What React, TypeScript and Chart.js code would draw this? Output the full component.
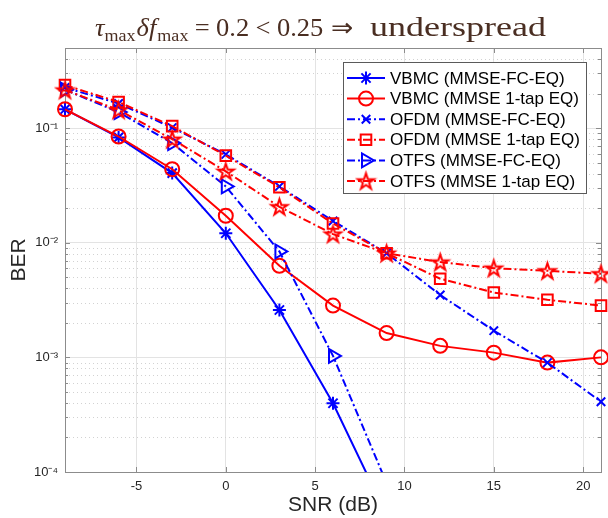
import React, { useEffect, useRef } from 'react';
import { Chart, registerables } from 'chart.js';
import { drawPoint } from 'chart.js/helpers';

Chart.register(...registerables);

const FONT = "'Liberation Sans', Arial, Helvetica, sans-serif";
const SERIF = "'Liberation Serif', 'Times New Roman', serif";
const BLUE = '#0000ff';
const RED = '#ff0000';
const AXIS = '#8c8c8c';
const TEXT = '#262626';
const TITLE_COLOR = '#4a2e22';

// ---- data ----
const snr = [-9, -6, -3, 0, 3, 6, 9, 12, 15, 18, 21];
const vbmcFc = [0.146, 0.083, 0.0405, 0.0121, 0.00259, 0.000398, 0.000042, null, null, null, null];
const vbmc1tap = [0.146, 0.0845, 0.0438, 0.0172, 0.0063, 0.00283, 0.00163, 0.00126, 0.0011, 0.0009, 0.001];
const ofdmFc = [0.226, 0.164, 0.101, 0.059, 0.031, 0.0155, 0.0081, 0.0035, 0.00171, 0.0009, 0.00041];
const ofdm1tap = [0.237, 0.169, 0.104, 0.0575, 0.0305, 0.0147, 0.0081, 0.00485, 0.00368, 0.00318, 0.00283];
const otfsFc = [0.216, 0.138, 0.074, 0.031, 0.0084, 0.00103, 0.00008, null, null, null, null];
const otfs1tap = [0.215, 0.144, 0.08, 0.042, 0.0206, 0.0119, 0.0081, 0.00678, 0.006, 0.00569, 0.00536];

const seriesLabels = [
  'VBMC (MMSE-FC-EQ)',
  'VBMC (MMSE 1-tap EQ)',
  'OFDM (MMSE-FC-EQ)',
  'OFDM (MMSE 1-tap EQ)',
  'OTFS (MMSE-FC-EQ)',
  'OTFS (MMSE 1-tap EQ)',
];
const xTicks = [-5, 0, 5, 10, 15, 20];
const yTicks = [1e-4, 1e-3, 1e-2, 1e-1];
const yTickLabels = ['10⁻⁴', '10⁻³', '10⁻²', '10⁻¹'];
const X_MIN = -9;
const X_MAX = 21;
const Y_MIN = 1e-4;
const Y_MAX = 0.5;
const xTitle = 'SNR (dB)';
const yTitle = 'BER';

const DASHDOT = [8, 3, 2, 3];

function makePentagram(r: number, color: string, lw: number): HTMLCanvasElement {
  const size = Math.ceil(2 * r + lw * 2 + 2);
  const c = document.createElement('canvas');
  c.width = size;
  c.height = size;
  const ctx = c.getContext('2d')!;
  ctx.strokeStyle = color;
  ctx.lineWidth = lw;
  ctx.lineJoin = 'miter';
  const cx = size / 2;
  const cy = size / 2 + 0.8;
  const ri = r * 0.382;
  ctx.beginPath();
  for (let i = 0; i < 10; i++) {
    const ang = -Math.PI / 2 + (i * Math.PI) / 5;
    const rr = i % 2 === 0 ? r : ri;
    const px = cx + rr * Math.cos(ang);
    const py = cy + rr * Math.sin(ang);
    if (i === 0) ctx.moveTo(px, py);
    else ctx.lineTo(px, py);
  }
  ctx.closePath();
  ctx.stroke();
  return c;
}

function toPoints(vals: (number | null)[]) {
  const out: { x: number; y: number }[] = [];
  vals.forEach((v, i) => {
    if (v !== null) out.push({ x: snr[i], y: v });
  });
  return out;
}

function drawTitle(ctx: CanvasRenderingContext2D, startX: number, base: number) {
  const MAIN = 25;
  const SUB = 17;
  const parts = [
    { t: 'τ', f: `italic ${MAIN}px ${SERIF}`, dy: 0, gap: 0 },
    { t: 'max', f: `${SUB}px ${SERIF}`, dy: 5, gap: 0 },
    { t: 'δ', f: `italic ${MAIN}px ${SERIF}`, dy: 0, gap: 1 },
    { t: 'f', f: `italic ${MAIN}px ${SERIF}`, dy: 0, gap: 0 },
    { t: 'max', f: `${SUB}px ${SERIF}`, dy: 5, gap: 1 },
    { t: '=', f: `${MAIN}px ${SERIF}`, dy: 0, gap: 6 },
    { t: '0.2', f: `${MAIN}px ${SERIF}`, dy: 0, gap: 6 },
    { t: '<', f: `${MAIN}px ${SERIF}`, dy: 0, gap: 6 },
    { t: '0.25', f: `${MAIN}px ${SERIF}`, dy: 0, gap: 6 },
    { t: '⇒', f: `${MAIN}px ${SERIF}`, dy: 0, gap: 7 },
  ];
  ctx.save();
  ctx.fillStyle = TITLE_COLOR;
  ctx.textBaseline = 'alphabetic';
  ctx.textAlign = 'left';
  let total = 0;
  for (const p of parts) {
    ctx.font = p.f;
    total += p.gap + ctx.measureText(p.t).width;
  }
  const mathWidth = 258;
  const sx = mathWidth / total;
  ctx.save();
  ctx.translate(startX, base);
  ctx.scale(sx, 1);
  let x = 0;
  for (const p of parts) {
    ctx.font = p.f;
    x += p.gap;
    ctx.fillText(p.t, x, p.dy);
    x += ctx.measureText(p.t).width;
  }
  ctx.restore();
  ctx.font = `27px ${SERIF}`;
  const word = 'underspread';
  const w = ctx.measureText(word).width;
  const target = 176;
  ctx.translate(startX + mathWidth + 17, base);
  ctx.scale(target / w, 1);
  ctx.fillText(word, 0, 0);
  ctx.restore();
}

const matlabPlugin = {
  id: 'matlabAxes',
  beforeDatasetsDraw(chart: any) {
    const { ctx, chartArea: a, scales } = chart;
    const ys = scales.y;
    const xs = scales.x;
    ctx.save();
    // minor grid
    ctx.strokeStyle = '#d2d2d2';
    ctx.lineWidth = 1;
    ctx.setLineDash([1, 3]);
    const minors: number[] = [];
    for (const d of yTicks) {
      for (let k = 2; k <= 9; k++) {
        const v = k * d;
        if (v < Y_MAX) minors.push(v);
      }
    }
    for (const v of minors) {
      const py = Math.round(ys.getPixelForValue(v)) + 0.5;
      ctx.beginPath();
      ctx.moveTo(a.left, py);
      ctx.lineTo(a.right, py);
      ctx.stroke();
    }
    ctx.setLineDash([]);
    // box
    ctx.strokeStyle = AXIS;
    ctx.lineWidth = 1;
    ctx.strokeRect(Math.round(a.left) + 0.5, Math.round(a.top) + 0.5, Math.round(a.right - a.left), Math.round(a.bottom - a.top));
    // tick marks (inside)
    ctx.beginPath();
    for (const v of xTicks) {
      const px = Math.round(xs.getPixelForValue(v)) + 0.5;
      ctx.moveTo(px, a.bottom);
      ctx.lineTo(px, a.bottom - 5);
      ctx.moveTo(px, a.top);
      ctx.lineTo(px, a.top + 5);
    }
    for (const v of yTicks) {
      const py = Math.round(ys.getPixelForValue(v)) + 0.5;
      ctx.moveTo(a.left, py);
      ctx.lineTo(a.left + 5, py);
      ctx.moveTo(a.right, py);
      ctx.lineTo(a.right - 5, py);
    }
    for (const v of minors) {
      const py = Math.round(ys.getPixelForValue(v)) + 0.5;
      ctx.moveTo(a.left, py);
      ctx.lineTo(a.left + 3, py);
      ctx.moveTo(a.right, py);
      ctx.lineTo(a.right - 3, py);
    }
    ctx.stroke();
    ctx.restore();
  },
  afterDraw(chart: any) {
    const { ctx, chartArea: a } = chart;
    // legend
    const lw = 243;
    const lh = 131;
    const lx = a.right - 15 - lw;
    const ly = a.top + 14;
    ctx.save();
    ctx.fillStyle = '#ffffff';
    ctx.fillRect(lx, ly, lw, lh);
    ctx.strokeStyle = '#5a5a5a';
    ctx.lineWidth = 1;
    ctx.strokeRect(Math.round(lx) + 0.5, Math.round(ly) + 0.5, lw, lh);
    ctx.font = `17px ${FONT}`;
    ctx.textBaseline = 'middle';
    ctx.textAlign = 'left';
    chart.data.datasets.forEach((ds: any, i: number) => {
      const ry = ly + 16 + i * 20.6;
      const x0 = lx + 4;
      const x1 = lx + 42;
      ctx.save();
      ctx.strokeStyle = ds.borderColor;
      ctx.lineWidth = ds.borderWidth;
      ctx.setLineDash(ds.borderDash || []);
      ctx.beginPath();
      ctx.moveTo(x0, ry);
      ctx.lineTo(x1, ry);
      ctx.stroke();
      ctx.setLineDash([]);
      ctx.strokeStyle = ds.pointBorderColor;
      ctx.fillStyle = 'rgba(0,0,0,0)';
      ctx.lineWidth = ds.pointBorderWidth;
      drawPoint(ctx, {
        pointStyle: ds.pointStyle,
        rotation: ds.pointRotation || 0,
        radius: ds.pointRadius,
        borderWidth: ds.pointBorderWidth,
      } as any, (x0 + x1) / 2, ry);
      ctx.restore();
      ctx.fillStyle = '#000000';
      ctx.fillText(ds.label, lx + 47, ry + 1);
    });
    ctx.restore();
    drawTitle(ctx, 95, 36);
  },
};

export default function App() {
  const ref = useRef<HTMLCanvasElement>(null);
  useEffect(() => {
    if (!ref.current) return;
    const pent = makePentagram(8.5, RED, 2);
    const clipBottom = { left: false, top: false, right: false, bottom: 0 };
    const base = (label: string, data: (number | null)[], color: string, dash: number[], style: any, radius: number, order: number, rot = 0) => ({
      label,
      data: toPoints(data),
      borderColor: color,
      backgroundColor: color,
      borderWidth: 2,
      borderDash: dash,
      pointStyle: style,
      pointRadius: radius,
      pointRotation: rot,
      pointBorderWidth: 2,
      pointBorderColor: color,
      pointBackgroundColor: 'rgba(0,0,0,0)',
      fill: false,
      tension: 0,
      order,
      clip: clipBottom,
    });
    const chart = new Chart(ref.current, {
      type: 'line',
      data: {
        datasets: [
          base(seriesLabels[0], vbmcFc, BLUE, [], 'star', 6.5, 6),
          base(seriesLabels[1], vbmc1tap, RED, [], 'circle', 7, 5),
          base(seriesLabels[2], ofdmFc, BLUE, DASHDOT, 'crossRot', 6, 4),
          base(seriesLabels[3], ofdm1tap, RED, DASHDOT, 'rect', 7.5, 3),
          base(seriesLabels[4], otfsFc, BLUE, DASHDOT, 'triangle', 8, 2, 90),
          base(seriesLabels[5], otfs1tap, RED, DASHDOT, pent, 8.5, 1),
        ] as any,
      },
      options: {
        responsive: false,
        animation: false,
        events: [],
        layout: { autoPadding: false, padding: { top: 48, right: 7, bottom: 0, left: 0 } },
        plugins: {
          legend: { display: false },
          tooltip: { enabled: false },
          title: { display: false },
        },
        scales: {
          x: {
            type: 'linear',
            min: X_MIN,
            max: X_MAX,
            afterBuildTicks: (s: any) => {
              s.ticks = xTicks.map((v) => ({ value: v }));
            },
            afterFit: (s: any) => {
              s.height = 46;
              s.paddingLeft = 0;
              s.paddingRight = 0;
            },
            ticks: {
              font: { size: 13, family: FONT },
              color: TEXT,
              padding: 7,
              maxRotation: 0,
              callback: (v: any) => String(v),
            },
            grid: { color: '#e3e3e3', lineWidth: 1, drawTicks: false },
            border: { display: false },
            title: {
              display: true,
              text: xTitle,
              font: { size: 21, family: FONT },
              color: TEXT,
              padding: { top: 0, bottom: 0 },
            },
          },
          y: {
            type: 'logarithmic',
            min: Y_MIN,
            max: Y_MAX,
            afterBuildTicks: (s: any) => {
              s.ticks = yTicks.map((v) => ({ value: v, major: true }));
            },
            afterFit: (s: any) => {
              s.width = 65;
              s.paddingTop = 0;
              s.paddingBottom = 0;
            },
            ticks: {
              font: { size: 13, family: FONT },
              color: TEXT,
              padding: 7,
              callback: (_v: any, i: number) => yTickLabels[i],
            },
            grid: { color: '#e3e3e3', lineWidth: 1, drawTicks: false },
            border: { display: false },
            title: {
              display: true,
              text: yTitle,
              font: { size: 21, family: FONT },
              color: TEXT,
              padding: { top: 7, bottom: 0 },
            },
          },
        },
      } as any,
      plugins: [matlabPlugin],
    });
    return () => chart.destroy();
  }, []);
  return (
    <div style={{ position: 'absolute', left: 0, top: 0, width: 608, height: 518, background: '#fff' }}>
      <canvas ref={ref} width={608} height={518} style={{ display: 'block' }} />
    </div>
  );
}
